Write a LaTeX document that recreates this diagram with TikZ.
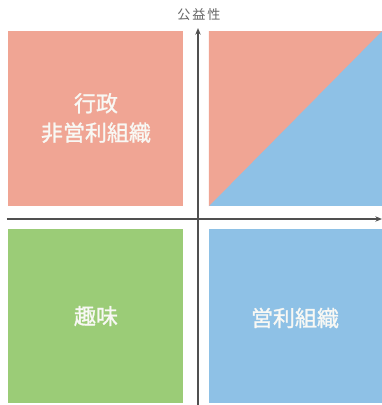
\documentclass[tikz,border=0pt]{standalone}
\usepackage{fontspec}
\setmainfont{Noto Sans CJK JP}
\newfontfamily\medfont[FakeBold=1.2]{Noto Sans CJK JP}
\newfontfamily\spacedfont[LetterSpace=15]{Noto Sans CJK JP}
\usetikzlibrary{arrows.meta}
\definecolor{qpink}{HTML}{F0A594}
\definecolor{qblue}{HTML}{8EC1E6}
\definecolor{qgreen}{HTML}{9BCC77}
\definecolor{qaxis}{HTML}{505050}
\definecolor{qlabel}{HTML}{666666}
\definecolor{qtextc}{HTML}{F8F8F4}
\tikzset{
  qtext/.style={text=qtextc, font=\medfont\fontsize{16.5pt}{22pt}\selectfont, align=center, inner sep=0pt},
  axis/.style={draw=qaxis, line width=0.9pt, -{Stealth[length=5pt,width=4pt]}},
}
\begin{document}
\begin{tikzpicture}[x=0.75pt,y=-0.75pt]
\useasboundingbox (0,0) rectangle (382,405);
\fill[white] (0,0) rectangle (382,405);
% quadrants
\fill[qpink] (8,31) rectangle (183,206);
\fill[qblue] (209,31) rectangle (382,206);
\fill[qpink] (209,206) -- (209,31) -- (382,31) -- cycle;
\fill[qgreen] (8,229) rectangle (183,403);
\fill[qblue] (209,229) rectangle (382,403);
% labels
\node[qtext] (gov) at (96,118) {行政\\非営利組織};
\node[qtext] (hobby) at (96,316) {趣味};
\node[qtext] (biz) at (295,318) {営利組織};
% axes
\coordinate (xs) at (7,219);
\coordinate (xe) at (382,219);
\coordinate (ys) at (198,405);
\coordinate (ye) at (198,28);
\draw[axis] (xs) -- (xe);
\draw[axis] (ys) -- (ye);
\node[text=qlabel, font=\spacedfont\fontsize{9.8pt}{11pt}\selectfont, inner sep=0pt] (pub) at (199,15) {公益性};
\end{tikzpicture}
\end{document}
